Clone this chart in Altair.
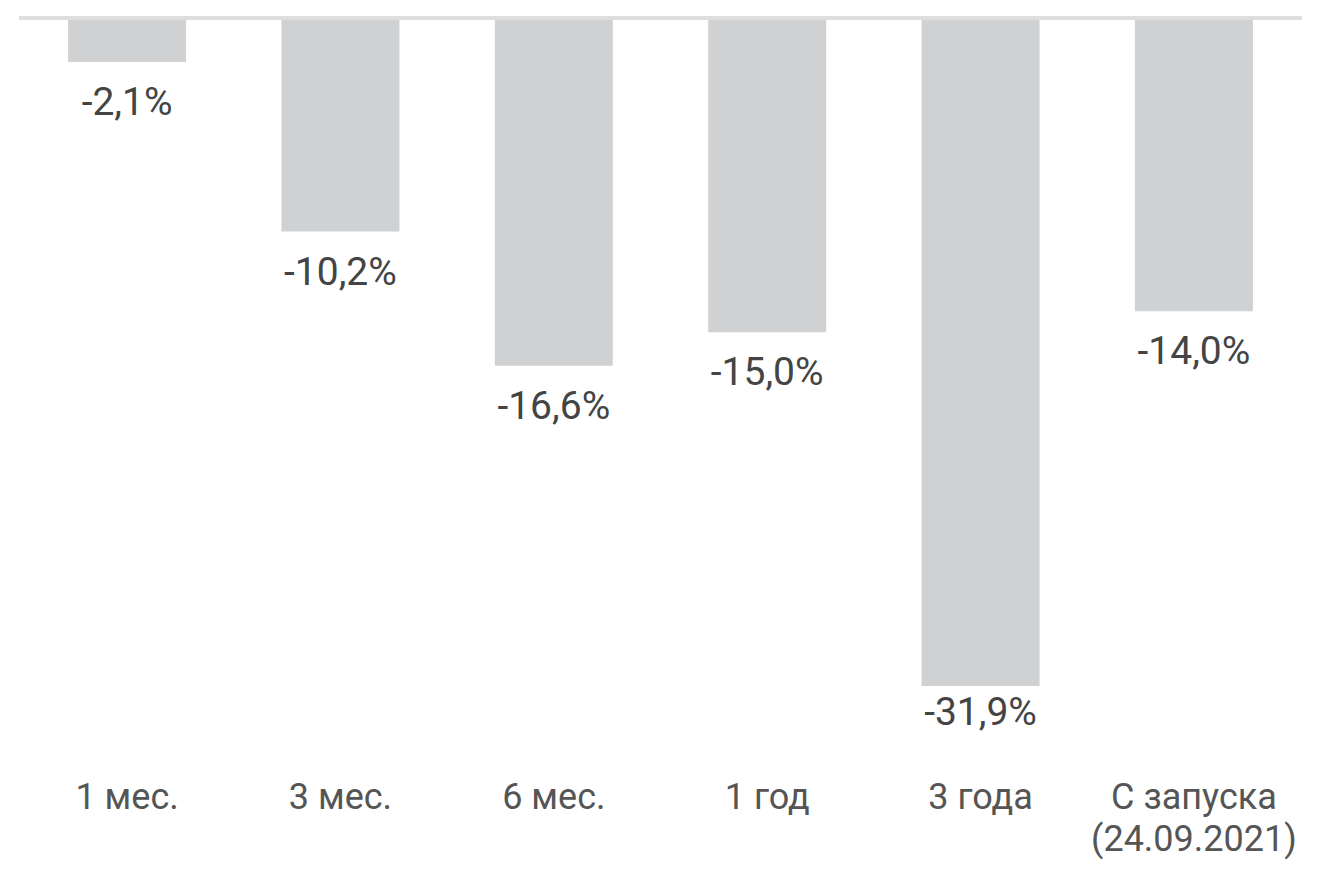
import altair as alt
import pandas as pd

categories = ["1 мес.", "3 мес.", "6 мес.", "1 год", "3 года", "С запуска\n(24.09.2021)"]
values = [-2.1, -10.2, -16.6, -15.0, -31.9, -14.0]

df = pd.DataFrame({"cat": categories, "value": values})
df["label"] = [f"{v:.1f}".replace(".", ",") + "%" for v in values]

W = 1283
H = 733
FONT = "Roboto"
YDOM = [-35, 0]

x = alt.X("cat:N", sort=None, title=None,
          scale=alt.Scale(paddingInner=0.447, paddingOuter=0.23),
          axis=alt.Axis(labelAngle=0, labelFont=FONT, labelFontSize=36, labelColor="#555555",
                        domain=False, ticks=False, labelPadding=29, labelLimit=0,
                        labelBaseline="top", labelLineHeight=42,
                        labelExpr="split(datum.label, '\\n')"))
y = alt.Y("value:Q", title=None, scale=alt.Scale(domain=YDOM, nice=False), axis=None)

base = alt.Chart(df)

bars = base.mark_bar(color="#d0d1d3").encode(x=x, y=y)

zero = base.mark_rule(color="#dedede", strokeWidth=3).encode(y=alt.YDatum(0, axis=None))

labels_main = base.transform_filter("datum.value > -30").mark_text(
    font=FONT, fontSize=39, color="#444444", baseline="alphabetic", dy=53
).encode(x=x, y=y, text="label:N")

labels_low = base.transform_filter("datum.value <= -30").mark_text(
    font=FONT, fontSize=39, color="#444444", baseline="alphabetic", dy=39
).encode(x=x, y=y, text="label:N")

chart = alt.layer(bars, zero, labels_main, labels_low).properties(
    width=W, height=H,
    padding={"left": 9, "top": 8, "right": 12, "bottom": 12},
).configure_view(stroke=None)

chart.save("out.html", embed_options={"renderer": "svg", "actions": False})
